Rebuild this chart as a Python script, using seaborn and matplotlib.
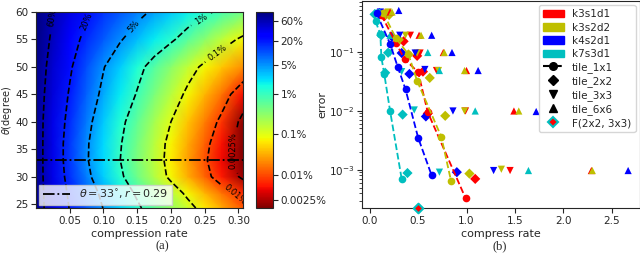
import numpy as np
import pandas as pd
import seaborn as sns
import matplotlib.pyplot as plt
import matplotlib.patches as mpatches
from matplotlib.lines import Line2D

# ---------------- (a) error map: log10(error) on a (theta, rate) grid ----------------
comp_rate = [0.0, 0.025, 0.05, 0.075, 0.1, 0.125, 0.15, 0.175, 0.2, 0.225, 0.25, 0.275, 0.307]
theta_deg = [24.3, 27, 30, 33, 36, 40, 45, 50, 55, 60]
log_err = [
    [-0.06, -0.39, -0.71, -1.01, -1.31, -1.61, -1.92, -2.23, -2.54, -2.85, -3.17, -3.50, -3.92],
    [-0.06, -0.41, -0.75, -1.07, -1.40, -1.73, -2.07, -2.41, -2.75, -3.10, -3.44, -3.78, -4.15],
    [-0.06, -0.44, -0.81, -1.20, -1.56, -1.92, -2.31, -2.71, -3.10, -3.48, -3.85, -4.23, -4.70],
    [-0.06, -0.45, -0.85, -1.26, -1.63, -2.00, -2.39, -2.77, -3.16, -3.55, -3.94, -4.33, -4.85],
    [-0.06, -0.45, -0.85, -1.25, -1.62, -1.97, -2.36, -2.75, -3.13, -3.50, -3.87, -4.29, -4.85],
    [-0.06, -0.44, -0.80, -1.18, -1.54, -1.89, -2.25, -2.63, -3.00, -3.36, -3.73, -4.10, -4.75],
    [-0.05, -0.39, -0.73, -1.06, -1.39, -1.71, -2.03, -2.39, -2.74, -3.10, -3.44, -3.78, -4.30],
    [-0.03, -0.34, -0.65, -0.96, -1.28, -1.57, -1.86, -2.17, -2.49, -2.81, -3.10, -3.34, -3.65],
    [-0.01, -0.27, -0.54, -0.80, -1.03, -1.27, -1.49, -1.71, -1.93, -2.20, -2.49, -2.79, -3.10],
    [0.00, -0.21, -0.43, -0.65, -0.84, -1.01, -1.19, -1.36, -1.54, -1.73, -1.91, -2.10, -2.35],
]
level_frac = [2.5e-5, 1e-4, 1e-3, 1e-2, 0.05, 0.2, 0.6]
level_text = ["0.0025%", "0.01%", "0.1%", "1%", "5%", "20%", "60%"]
theta_sel = 33

# ---------------- (b) error vs compress rate ----------------
configs = ["k3s1d1", "k3s2d2", "k4s2d1", "k7s3d1"]
rate_1x1 = {"k3s1d1": [0.12, 0.27, 0.36, 0.50, 0.60, 0.99],
            "k3s2d2": [0.14, 0.27, 0.40, 0.49, 0.74, 0.84],
            "k4s2d1": [0.07, 0.21, 0.29, 0.37, 0.50, 0.64],
            "k7s3d1": [0.06, 0.11, 0.12, 0.15, 0.21, 0.33]}
err_1x1 = {"k3s1d1": [0.42, 0.14, 0.075, 0.045, 0.0094, 0.00033],
           "k3s2d2": [0.45, 0.17, 0.09, 0.032, 0.0036, 0.00065],
           "k4s2d1": [0.45, 0.136, 0.055, 0.023, 0.0035, 0.0008],
           "k7s3d1": [0.33, 0.197, 0.081, 0.042, 0.010, 0.0007]}
rate_2x2 = {"k3s1d1": [0.15, 0.35, 0.49, 0.55, 0.60, 1.09],
            "k3s2d2": [0.20, 0.30, 0.40, 0.62, 0.78, 1.03],
            "k4s2d1": [0.10, 0.23, 0.33, 0.41, 0.58, 0.90],
            "k7s3d1": [0.05, 0.12, 0.19, 0.16, 0.34, 0.39]}
err_2x2 = {"k3s1d1": [0.40, 0.15, 0.085, 0.046, 0.009, 0.0007],
           "k3s2d2": [0.42, 0.16, 0.09, 0.036, 0.0082, 0.00086],
           "k4s2d1": [0.45, 0.18, 0.095, 0.042, 0.008, 0.00091],
           "k7s3d1": [0.43, 0.19, 0.096, 0.044, 0.0086, 0.00088]}
rate_3x3 = {"k3s1d1": [0.17, 0.42, 0.52, 0.69, 0.99, 1.45],
            "k3s2d2": [0.19, 0.37, 0.49, 0.71, 0.98, 1.36],
            "k4s2d1": [0.11, 0.31, 0.47, 0.57, 0.86, 1.28],
            "k7s3d1": [0.08, 0.12, 0.21, 0.33, 0.46, 0.72]}
err_3x3 = {"k3s1d1": [0.45, 0.19, 0.095, 0.048, 0.0099, 0.00097],
           "k3s2d2": [0.47, 0.19, 0.095, 0.048, 0.0099, 0.00102],
           "k4s2d1": [0.47, 0.19, 0.095, 0.050, 0.0099, 0.00097],
           "k7s3d1": [0.45, 0.19, 0.095, 0.046, 0.0103, 0.00091]}
rate_6x6 = {"k3s1d1": [0.21, 0.51, 0.76, 1.00, 1.49, 2.29],
            "k3s2d2": [0.23, 0.53, 0.77, 0.98, 1.54, 2.30],
            "k4s2d1": [0.30, 0.64, 0.85, 1.12, 1.72, 2.67],
            "k7s3d1": [0.10, 0.21, 0.60, 0.72, 1.09, 1.64]}
err_6x6 = {"k3s1d1": [0.47, 0.19, 0.097, 0.048, 0.0099, 0.00097],
           "k3s2d2": [0.47, 0.19, 0.097, 0.048, 0.0099, 0.00097],
           "k4s2d1": [0.50, 0.19, 0.097, 0.048, 0.0097, 0.00097],
           "k7s3d1": [0.47, 0.19, 0.097, 0.048, 0.0099, 0.00097]}
fused_rate = [0.50]
fused_err = [0.000225]

colors = {"k3s1d1": "r", "k3s2d2": "y", "k4s2d1": "b", "k7s3d1": "c"}

sns.set_style("ticks")
plt.rcParams["font.family"] = ["DejaVu Sans"]
plt.rcParams["font.size"] = 8
plt.rcParams["axes.labelsize"] = 8
plt.rcParams["xtick.labelsize"] = 7.5
plt.rcParams["ytick.labelsize"] = 7.5
plt.rcParams["xtick.major.pad"] = 2.5
plt.rcParams["ytick.major.pad"] = 2

fig = plt.figure(figsize=(6.4, 2.57), dpi=100)

# ---- left panel
ax1 = fig.add_axes([0.056, 0.1907, 0.324, 0.7626])
Z = np.array(log_err)
mesh = ax1.pcolormesh(comp_rate, theta_deg, Z, shading="gouraud", cmap="jet_r", vmin=-4.8, vmax=0)
levels = np.log10(level_frac)
cs = ax1.contour(comp_rate, theta_deg, Z, levels=levels, colors="k",
                 linestyles="--", linewidths=1.2)
fmt = {lv: t for lv, t in zip(cs.levels, level_text)}
ax1.clabel(cs, fmt=fmt, fontsize=6, inline=True,
           manual=[(0.292, 34.8), (0.29, 26.2), (0.27, 52.5), (0.243, 59.0),
                   (0.142, 57.6), (0.077, 58.2), (0.023, 59.0)])
ax1.axhline(theta_sel, color="k", ls="-.", lw=1.3,
            label=r"$\theta=33^{\circ}, r=0.29$")
ax1.set_xlim(0, 0.307)
ax1.set_ylim(24.3, 60)
ax1.set_xticks([0.05, 0.10, 0.15, 0.20, 0.25, 0.30])
ax1.set_xticklabels(["0.05", "0.10", "0.15", "0.20", "0.25", "0.30"])
ax1.set_yticks([25, 30, 35, 40, 45, 50, 55, 60])
ax1.set_xlabel("compression rate", labelpad=2)
ax1.set_ylabel(r"$\theta$(degree)", fontsize=7)
ax1.yaxis.set_label_coords(-0.105, 0.5)
ax1.legend(loc="lower left", fontsize=8, handlelength=2.5, borderpad=0.3,
           borderaxespad=0.3, fancybox=False)

cax = fig.add_axes([0.4, 0.1907, 0.0266, 0.7626])
cb = fig.colorbar(mesh, cax=cax)
cb.set_ticks(np.log10([0.6, 0.2, 0.05, 0.01, 1e-3, 1e-4, 2.5e-5]))
cb.set_ticklabels(["60%", "20%", "5%", "1%", "0.1%", "0.01%", "0.0025%"])
cb.outline.set_linewidth(0.8)

# ---- right panel
ax2 = fig.add_axes([0.5656, 0.1907, 0.434, 0.805])
ax2.set_yscale("log")

rows = []
for cfg in configs:
    for r, e in zip(rate_1x1[cfg], err_1x1[cfg]):
        rows.append((cfg, "tile_1x1", r, e))
df_line = pd.DataFrame(rows, columns=["config", "tile", "rate", "error"])

rows = []
for tile, rd, ed in [("tile_2x2", rate_2x2, err_2x2), ("tile_3x3", rate_3x3, err_3x3),
                     ("tile_6x6", rate_6x6, err_6x6)]:
    for cfg in configs:
        for r, e in zip(rd[cfg], ed[cfg]):
            rows.append((cfg, tile, r, e))
df_pts = pd.DataFrame(rows, columns=["config", "tile", "rate", "error"])

sns.lineplot(data=df_line, x="rate", y="error", hue="config", hue_order=configs,
             palette=colors, estimator=None, sort=False, marker="o", markersize=5.5,
             markeredgewidth=0, linestyle="--", linewidth=1.3, legend=False, ax=ax2)
sns.scatterplot(data=df_pts, x="rate", y="error", hue="config", hue_order=configs,
                palette=colors, style="tile",
                markers={"tile_2x2": "D", "tile_3x3": "v", "tile_6x6": "^"},
                s=27, linewidth=0, legend=False, ax=ax2)
ax2.scatter(fused_rate, fused_err, marker="D", s=24, facecolor="r", edgecolor="c",
            linewidth=1.5, zorder=5, clip_on=False)

ax2.set_xlim(-0.08, 2.79)
ax2.set_ylim(2.25e-4, 0.72)
ax2.set_xlabel("compress rate", labelpad=2)
ax2.set_ylabel("error", labelpad=1)

handles = [mpatches.Patch(color=colors[c], label=c) for c in configs]
handles += [
    Line2D([], [], color="k", ls="--", marker="o", ms=5.5, label="tile_1x1"),
    Line2D([], [], color="k", ls="", marker="D", ms=5.5, label="tile_2x2"),
    Line2D([], [], color="k", ls="", marker="v", ms=5.5, label="tile_3x3"),
    Line2D([], [], color="k", ls="", marker="^", ms=5.5, label="tile_6x6"),
    Line2D([], [], color="r", ls="", marker="D", ms=5, mfc="r", mec="c", mew=1.5,
           label="F(2x2, 3x3)"),
]
ax2.legend(handles=handles, loc="upper right", fontsize=7.5, labelspacing=0.3,
           borderpad=0.4, borderaxespad=0.4)

fig.text(0.253, 0.03, "(a)", family="Liberation Serif", fontsize=9, ha="center")
fig.text(0.781, 0.03, "(b)", family="Liberation Serif", fontsize=9, ha="center")

fig.savefig("out.png", dpi=100)
